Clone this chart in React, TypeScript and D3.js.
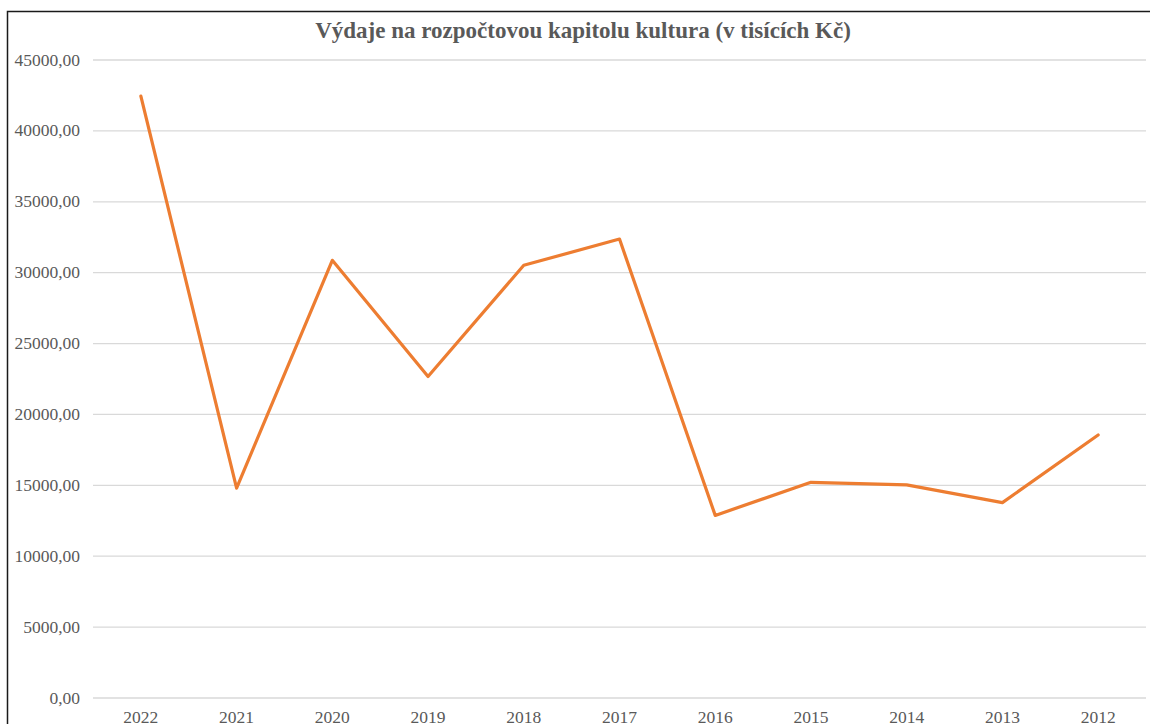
import React from 'react'
import * as d3 from 'd3'

const years = ['2022', '2021', '2020', '2019', '2018', '2017', '2016', '2015', '2014', '2013', '2012']
const spending = [42450, 14800, 30870, 22680, 30520, 32370, 12880, 15210, 15030, 13780, 18550]
const yTicks = [0, 5000, 10000, 15000, 20000, 25000, 30000, 35000, 40000, 45000]

const W = 1150
const H = 724
const margin = { top: 60, right: 4, bottom: 26, left: 93 }
const font = '"Liberation Serif", "Times New Roman", serif'
const textColor = '#595959'

const fmt = (v: number) => v.toFixed(2).replace('.', ',')

export default function App() {
    const x = d3
        .scalePoint<string>()
        .domain(years)
        .range([margin.left, W - margin.right])
        .padding(0.5)

    const y = d3
        .scaleLinear()
        .domain([0, 45000])
        .range([H - margin.bottom, margin.top])

    const line = d3
        .line<number>()
        .x((_, i) => x(years[i])!)
        .y(d => y(d))

    return (
        <svg width={W} height={H} style={{ position: 'absolute', left: 0, top: 0, background: '#fff' }}>
            {/* chart frame, only top and left edges are visible */}
            <path d={`M7.5,${H + 5} V11.5 H${W + 5}`} fill="none" stroke="#1a1a1a" strokeWidth={1.5} />

            <text
                x={583}
                y={38}
                textAnchor="middle"
                fontFamily={font}
                fontWeight="bold"
                fontSize={23}
                fill={textColor}
            >
                Výdaje na rozpočtovou kapitolu kultura (v tisících Kč)
            </text>

            {/* gridlines + y labels */}
            {yTicks.map(t => (
                <g key={t}>
                    <line x1={margin.left} x2={W - margin.right} y1={y(t)} y2={y(t)} stroke="#d9d9d9" strokeWidth={1.3} />
                    <text
                        x={80}
                        y={y(t) + 5.5}
                        textAnchor="end"
                        fontFamily={font}
                        fontSize={17.5}
                        fill={textColor}
                    >
                        {fmt(t)}
                    </text>
                </g>
            ))}

            {/* x labels, cut by the bottom edge as in the source */}
            {years.map(yr => (
                <text
                    key={yr}
                    x={x(yr)}
                    y={H - 1.5}
                    textAnchor="middle"
                    fontFamily={font}
                    fontSize={17.5}
                    fill={textColor}
                >
                    {yr}
                </text>
            ))}

            <path d={line(spending)!} fill="none" stroke="#ED7D31" strokeWidth={3.2} strokeLinejoin="round" strokeLinecap="round" />
        </svg>
    )
}
